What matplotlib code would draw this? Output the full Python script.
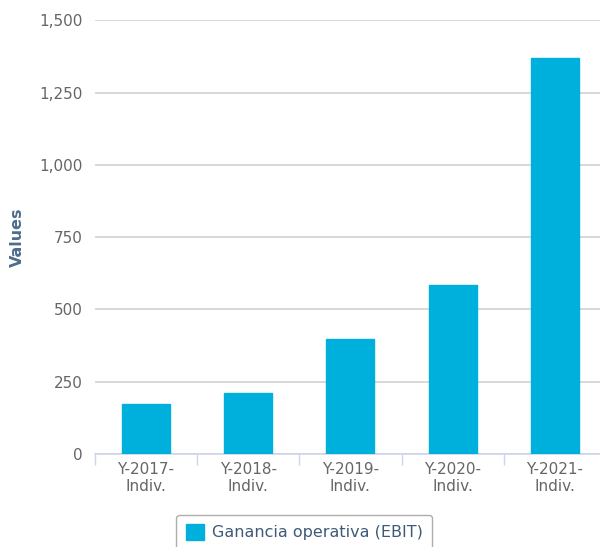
import matplotlib
matplotlib.use("Agg")
import matplotlib.pyplot as plt
from matplotlib.patches import Patch
from matplotlib.ticker import FuncFormatter, FixedLocator

categories = ["Y-2017-\nIndiv.", "Y-2018-\nIndiv.", "Y-2019-\nIndiv.", "Y-2020-\nIndiv.", "Y-2021-\nIndiv."]
values = [173, 211, 397, 584, 1370]
series_name = "Ganancia operativa (EBIT)"
yticks = [0, 250, 500, 750, 1000, 1250, 1500]

plt.rcParams['font.family'] = ['DejaVu Sans']

fig = plt.figure(figsize=(6.0, 5.47), dpi=100)
ax = fig.add_axes([0.158, 0.170, 0.852, 0.793])

x = list(range(len(categories)))
ax.bar(x, values, width=0.47, color="#00b0dc", edgecolor="#00b0dc", zorder=3)

ax.set_xlim(-0.5, len(categories) - 0.5)
ax.set_ylim(0, 1500)
ax.set_yticks(yticks)
ax.yaxis.set_major_formatter(FuncFormatter(lambda v, p: f"{int(v):,}"))
ax.grid(axis="y", color="#d2d2d2", linewidth=1.2, zorder=0)
ax.tick_params(axis="y", length=0, labelsize=11, labelcolor="#666666", pad=9)

ax.set_xticks(x)
ax.set_xticklabels(categories, linespacing=1.15)
ax.xaxis.set_minor_locator(FixedLocator([i - 0.5 for i in range(len(categories) + 1)]))
ax.tick_params(axis="x", which="major", length=0, labelsize=11, labelcolor="#666666", pad=6)
ax.tick_params(axis="x", which="minor", length=8, color="#ccd6eb", width=1)

for s in ["top", "right", "left"]:
    ax.spines[s].set_visible(False)
ax.spines["bottom"].set_color("#ccd6eb")
ax.spines["bottom"].set_linewidth(1.2)

ax.set_ylabel("Values", fontsize=11.5, fontweight="bold", color="#4d6d8d", labelpad=10)

handle = Patch(facecolor="#00b0dc", edgecolor="#00b0dc")
leg = fig.legend([handle], [series_name], loc="lower center", bbox_to_anchor=(0.507, -0.02),
                 frameon=True, fontsize=11.5, handlelength=1.1, handleheight=1.1,
                 borderpad=0.6, handletextpad=0.5, fancybox=True)
leg.get_frame().set_edgecolor("#999999")
leg.get_frame().set_linewidth(1)
for t in leg.get_texts():
    t.set_color("#3e5a78")

fig.savefig("out.png", dpi=100)
